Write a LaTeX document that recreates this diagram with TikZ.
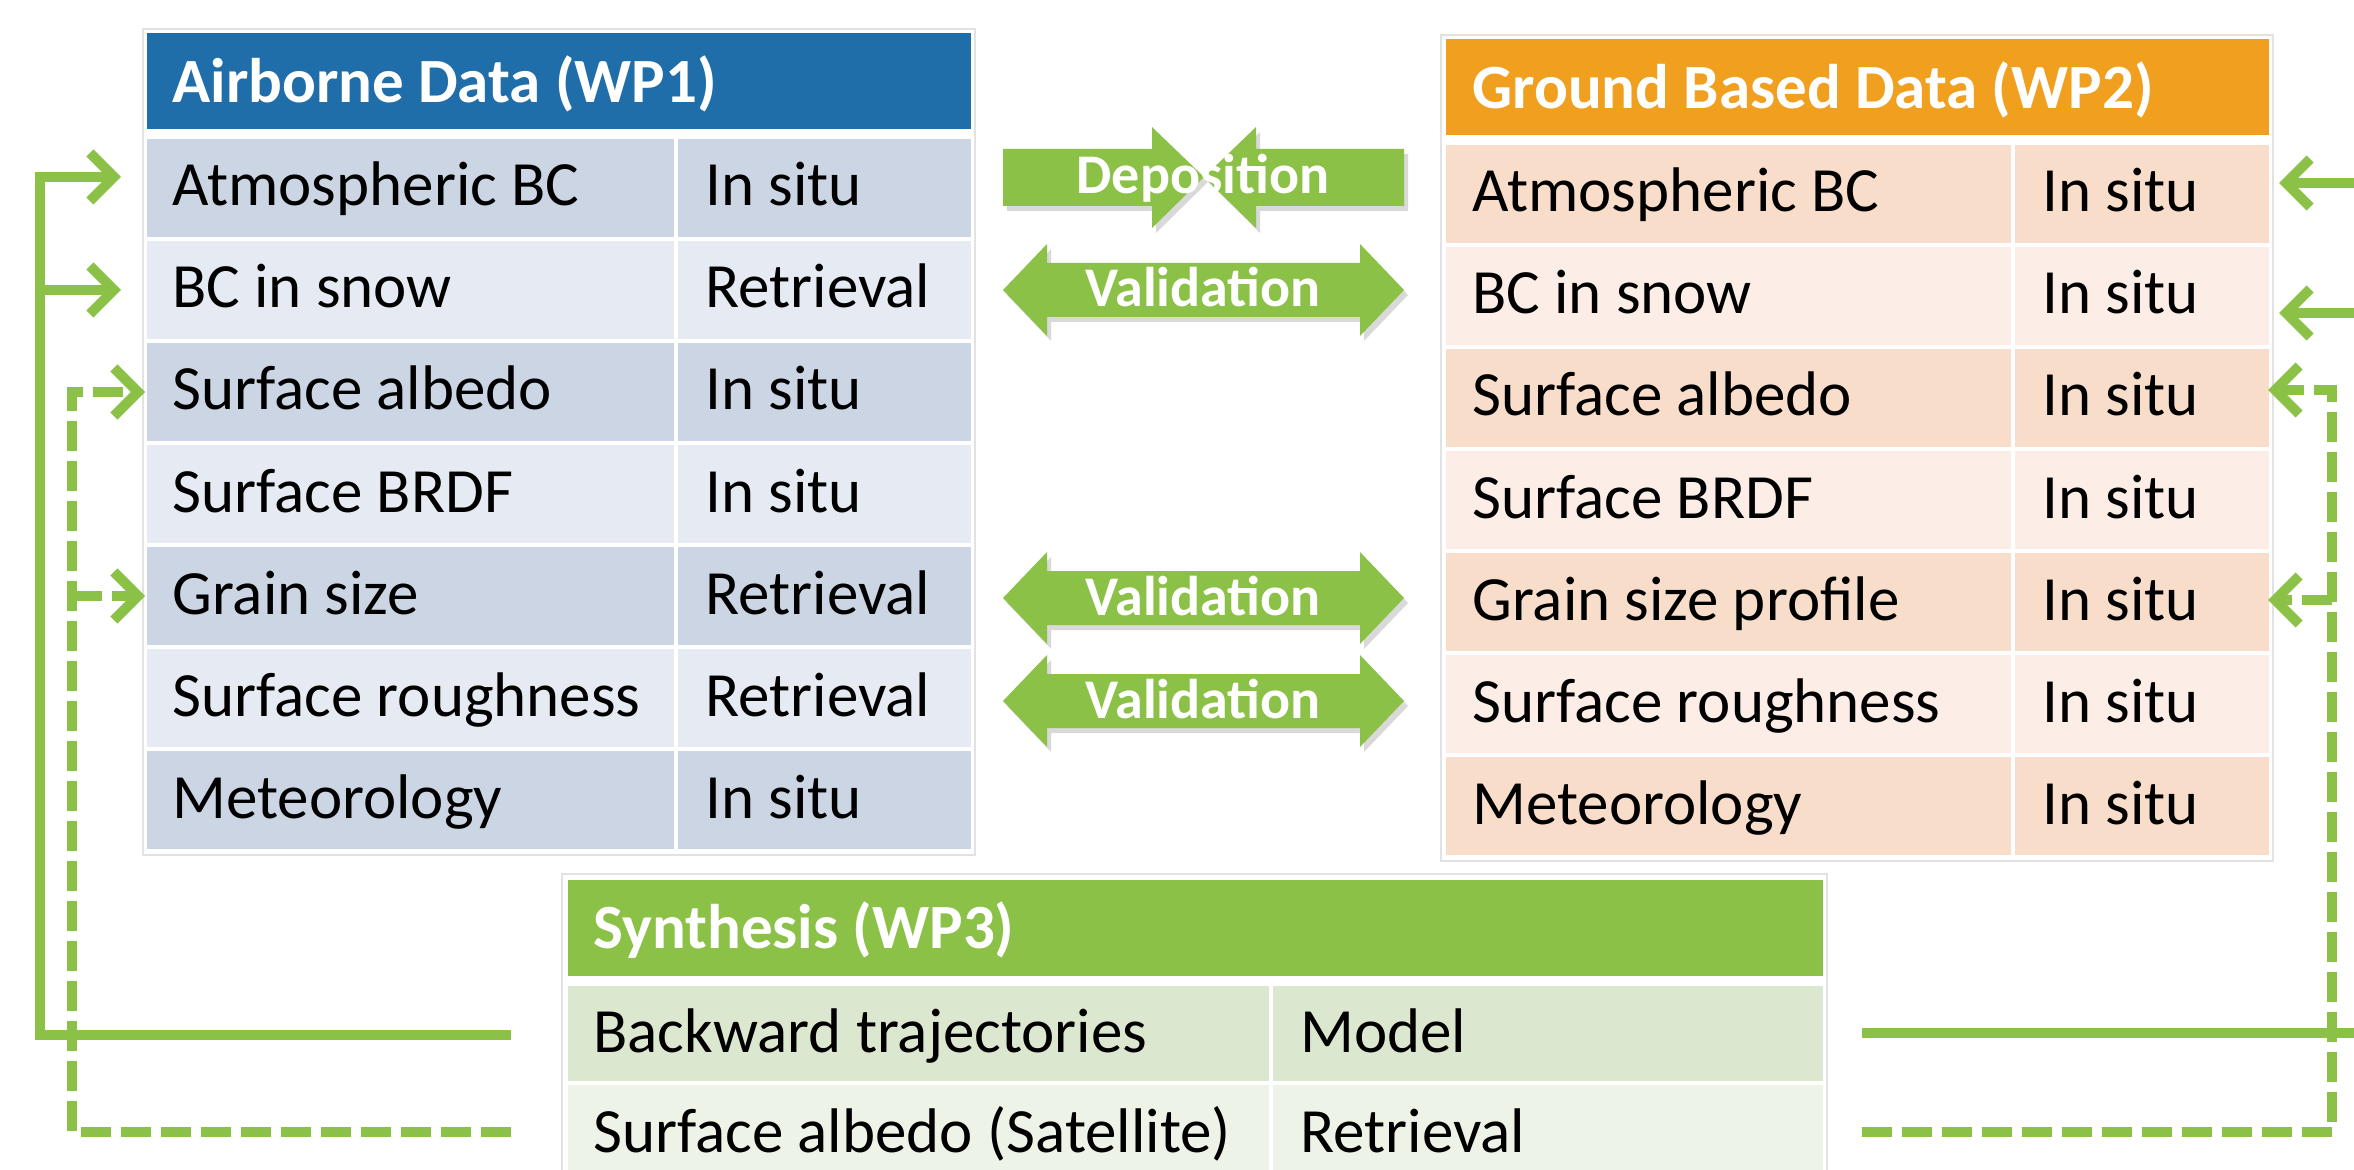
\documentclass[tikz,border=0pt]{standalone}
\usepackage{fontspec}
\setmainfont{Carlito}
\usetikzlibrary{arrows.meta}
\definecolor{bluehead}{HTML}{1F6DA9}
\definecolor{blueA}{HTML}{CBD5E3}
\definecolor{blueB}{HTML}{E6EAF2}
\definecolor{orangehead}{HTML}{F0A01E}
\definecolor{orangeA}{HTML}{F9DDCB}
\definecolor{orangeB}{HTML}{FCEEE6}
\definecolor{greenhead}{HTML}{8BC147}
\definecolor{greenA}{HTML}{DCE7D0}
\definecolor{greenB}{HTML}{EEF3E8}
\definecolor{arrowgreen}{HTML}{8BC147}
\definecolor{framegray}{HTML}{E2E2E2}
\begin{document}
\begin{tikzpicture}[x=0.5pt,y=-0.5pt,
 celltext/.style={anchor=base west, inner sep=0pt, font=\fontsize{31.5}{37}\selectfont, text=black},
 headtext/.style={anchor=base west, inner sep=0pt, font=\fontsize{31.5}{37}\selectfont\bfseries, text=white},
 arrowlabel/.style={anchor=base, inner sep=0pt, font=\fontsize{28}{33}\selectfont\bfseries, text=white},
 frame/.style={draw=framegray, line width=0.6pt, fill=white},
 conn/.style={draw=arrowgreen, line width=5pt},
 dconn/.style={conn, dash pattern=on 15pt off 5pt},
 tipend/.style={-{Straight Barb[length=12pt,width=24pt]}},
 blockarrow/.style={fill=arrowgreen},
 shadowarrow/.style={fill=black, opacity=0.15},
]
\useasboundingbox (0,0) rectangle (2354,1170);
\clip (0,0) rectangle (2354,1170);
\fill[white] (0,0) rectangle (2354,1170);

% ---------- Airborne table ----------
\path[frame] (143,29) rectangle (975,855);
\fill[bluehead] (147,33) rectangle (971,129);
\node[headtext] (airhead) at (172,103) {Airborne Data (WP1)};
\foreach \i/\c/\ta/\tb in {0/blueA/Atmospheric BC/In situ,1/blueB/BC in snow/Retrieval,2/blueA/Surface albedo/In situ,3/blueB/Surface BRDF/In situ,4/blueA/Grain size/Retrieval,5/blueB/Surface roughness/Retrieval,6/blueA/Meteorology/In situ}{
  \fill[\c] (147,{139+102*\i}) rectangle (674,{237+102*\i});
  \fill[\c] (678,{139+102*\i}) rectangle (971,{237+102*\i});
  \node[celltext] (airL\i) at (172,{206+102*\i}) {\ta};
  \node[celltext] (airR\i) at (705,{206+102*\i}) {\tb};
}

% ---------- Ground based table ----------
\path[frame] (1441,35) rectangle (2273,861);
\fill[orangehead] (1446,39) rectangle (2269,135);
\node[headtext] (gndhead) at (1472,109) {Ground Based Data (WP2)};
\foreach \i/\c/\ta/\tb in {0/orangeA/Atmospheric BC/In situ,1/orangeB/BC in snow/In situ,2/orangeA/Surface albedo/In situ,3/orangeB/Surface BRDF/In situ,4/orangeA/Grain size profile/In situ,5/orangeB/Surface roughness/In situ,6/orangeA/Meteorology/In situ}{
  \fill[\c] (1446,{145+102*\i}) rectangle (2011,{243+102*\i});
  \fill[\c] (2015,{145+102*\i}) rectangle (2269,{243+102*\i});
  \node[celltext] (gndL\i) at (1472,{212+102*\i}) {\ta};
  \node[celltext] (gndR\i) at (2042,{212+102*\i}) {\tb};
}

% ---------- Synthesis table ----------
\path[frame] (562,874) rectangle (1827,1200);
\fill[greenhead] (568,880) rectangle (1823,976);
\node[headtext] (synhead) at (593,948) {Synthesis (WP3)};
\fill[greenA] (568,986) rectangle (1269,1081);
\fill[greenA] (1273,986) rectangle (1823,1081);
\fill[greenB] (568,1085) rectangle (1269,1190);
\fill[greenB] (1273,1085) rectangle (1823,1190);
\node[celltext] (synL0) at (593,1052) {Backward trajectories};
\node[celltext] (synR0) at (1300,1052) {Model};
\node[celltext] (synL1) at (593,1152) {Surface albedo (Satellite)};
\node[celltext] (synR1) at (1300,1152) {Retrieval};

% ---------- Block arrows ----------
\begin{scope}[shift={(4,5)}]
 \fill[shadowarrow] (1003,149) -- (1152,149) -- (1152,127) -- (1204,177) -- (1152,228) -- (1152,206) -- (1003,206) -- cycle;
 \fill[shadowarrow] (1404,149) -- (1256,149) -- (1256,127) -- (1204,177) -- (1256,228) -- (1256,206) -- (1404,206) -- cycle;
\end{scope}
\fill[blockarrow] (1003,149) -- (1152,149) -- (1152,127) -- (1204,177) -- (1152,228) -- (1152,206) -- (1003,206) -- cycle;
\fill[blockarrow] (1404,149) -- (1256,149) -- (1256,127) -- (1204,177) -- (1256,228) -- (1256,206) -- (1404,206) -- cycle;
\node[arrowlabel] (dep) at (1203,194) {Deposition};

\foreach \c/\nm in {290/val1,598/val2,701/val3}{
 \begin{scope}[shift={(4,{\c+5})}]
  \fill[shadowarrow] (1003,0) -- (1047,-46) -- (1047,-27) -- (1360,-27) -- (1360,-46) -- (1404,0) -- (1360,46) -- (1360,27) -- (1047,27) -- (1047,46) -- cycle;
 \end{scope}
 \begin{scope}[shift={(0,\c)}]
  \fill[blockarrow] (1003,0) -- (1047,-46) -- (1047,-27) -- (1360,-27) -- (1360,-46) -- (1404,0) -- (1360,46) -- (1360,27) -- (1047,27) -- (1047,46) -- cycle;
 \end{scope}
 \node[arrowlabel] (\nm) at (1203,{\c+17}) {Validation};
}

% ---------- Connectors left ----------
\coordinate (ldA) at (145,392);
\coordinate (ldB) at (145,596);
\coordinate (ldTop) at (72,392);
\coordinate (ldMid) at (72,596);
\coordinate (ldCorner) at (72,1132);
\coordinate (ldEnd) at (511,1132);
\draw[dconn, tipend] (ldEnd) -- (ldCorner) -- (ldTop) -- (ldA);
\draw[dconn, tipend] (ldMid) -- (ldB);

\coordinate (lsA) at (121,177);
\coordinate (lsB) at (121,290);
\coordinate (lsTop) at (40,177);
\coordinate (lsMid) at (40,290);
\coordinate (lsCorner) at (40,1035);
\coordinate (lsEnd) at (511,1035);
\draw[conn, tipend] (lsEnd) -- (lsCorner) -- (lsTop) -- (lsA);
\draw[conn, tipend] (lsMid) -- (lsB);

% ---------- Connectors right ----------
\coordinate (rdA) at (2268,390);
\coordinate (rdB) at (2268,600);
\coordinate (rdTop) at (2332,390);
\coordinate (rdMid) at (2332,600);
\coordinate (rdCorner) at (2332,1132);
\coordinate (rdEnd) at (1862,1132);
\draw[dconn, tipend] (rdEnd) -- (rdCorner) -- (rdTop) -- (rdA);
\draw[dconn, tipend] (rdMid) -- (rdB);

\coordinate (rsA) at (2279,183);
\coordinate (rsB) at (2279,313);
\coordinate (rsTop) at (2376,183);
\coordinate (rsMid) at (2376,313);
\coordinate (rsCorner) at (2376,1033);
\coordinate (rsEnd) at (1862,1033);
\draw[conn, tipend] (rsEnd) -- (rsCorner) -- (rsTop) -- (rsA);
\draw[conn, tipend] (rsMid) -- (rsB);
\end{tikzpicture}
\end{document}
